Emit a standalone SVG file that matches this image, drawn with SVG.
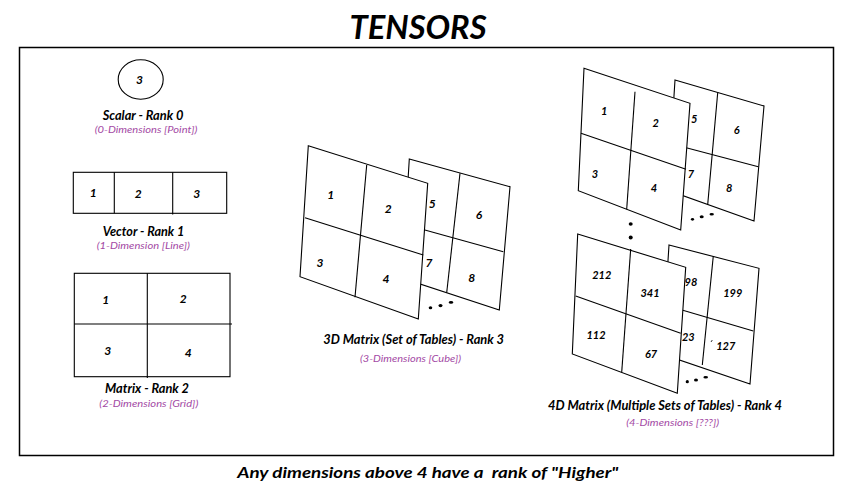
<svg xmlns="http://www.w3.org/2000/svg" width="857" height="496" viewBox="0 0 857 496">
<style>
.t{font-family:Lato,"Liberation Sans",sans-serif;font-weight:bold;font-style:italic;fill:#000}
.lbl{font-family:Lato,"Liberation Sans",sans-serif;font-weight:bold;font-style:italic;font-size:12.5px;fill:#000;text-anchor:middle}
.sub{font-family:Lato,"Liberation Sans",sans-serif;font-style:italic;font-size:10px;fill:#a349a4;text-anchor:middle}
.n{font-family:Lato,"Liberation Sans",sans-serif;font-weight:bold;font-style:italic;font-size:12px;fill:#000;text-anchor:middle}
.ns{font-family:Lato,"Liberation Sans",sans-serif;font-weight:bold;font-style:italic;font-size:11px;fill:#000;text-anchor:middle}
.ln{stroke:#000;stroke-width:1.1;fill:none}
.sh{stroke:#000;stroke-width:1.1;fill:#fff}
.dot{fill:#000}
</style>
<rect width="857" height="496" fill="#fff"/>
<rect x="19.5" y="47.5" width="814" height="408" fill="none" stroke="#000" stroke-width="1.5"/>
<text class="t" x="418" y="39" font-size="31.5" text-anchor="middle" textLength="137" lengthAdjust="spacingAndGlyphs">TENSORS</text>

<g id="scalar">
<ellipse cx="140.7" cy="79.5" rx="22.5" ry="19.7" class="ln"/>
<text class="n" x="139.5" y="84">3</text>
<text class="lbl" x="143" y="119.5" textLength="80.7" lengthAdjust="spacingAndGlyphs">Scalar - Rank 0</text>
<text class="sub" x="146" y="132.5" textLength="102.7" lengthAdjust="spacingAndGlyphs">(0-Dimensions [Point])</text>
</g>

<g id="vector">
<rect x="73.3" y="172.3" width="153.4" height="41" class="ln"/>
<line x1="114.3" y1="172.3" x2="114.3" y2="213.3" class="ln"/>
<line x1="172.7" y1="172.3" x2="172.7" y2="214.5" class="ln"/>
<text class="n" x="93.3" y="197">1</text>
<text class="n" x="138.3" y="197.5">2</text>
<text class="n" x="196.7" y="198.2">3</text>
<text class="lbl" x="143.5" y="235.5" textLength="81.6" lengthAdjust="spacingAndGlyphs">Vector - Rank 1</text>
<text class="sub" x="143.3" y="249" textLength="93.3" lengthAdjust="spacingAndGlyphs">(1-Dimension [Line])</text>
</g>

<g id="matrix">
<rect x="74.3" y="273.3" width="155.7" height="103.4" class="ln"/>
<line x1="147.3" y1="273.3" x2="147.3" y2="378" class="ln"/>
<line x1="74.3" y1="324" x2="232" y2="324" class="ln"/>
<text class="n" x="105.7" y="303.5">1</text>
<text class="n" x="183.3" y="302.5">2</text>
<text class="n" x="107.7" y="355">3</text>
<text class="n" x="188.3" y="357">4</text>
<text class="lbl" x="147" y="392.5" textLength="84" lengthAdjust="spacingAndGlyphs">Matrix - Rank 2</text>
<text class="sub" x="148.8" y="406.5" textLength="99" lengthAdjust="spacingAndGlyphs">(2-Dimensions [Grid])</text>
</g>

<g id="matrix3d">
<g id="matrix3d-back">
<polygon points="409.3,159 510,186.7 499.3,310 402,278" class="sh"/>
<line x1="460" y1="173.3" x2="446.7" y2="292.7" class="ln"/>
<line x1="405" y1="224.5" x2="503.3" y2="251.7" class="ln"/>
<text class="n" x="432.3" y="207.5">5</text>
<text class="n" x="479" y="219.2">6</text>
<text class="n" x="429" y="267">7</text>
<text class="n" x="471.7" y="281.5">8</text>
</g>
<g id="matrix3d-front">
<polygon points="308.3,145.7 427.7,183.3 418.3,319 300,276.7" class="sh"/>
<line x1="366.7" y1="165" x2="355" y2="297.3" class="ln"/>
<line x1="305" y1="217.7" x2="423.3" y2="255" class="ln"/>
<text class="n" x="330.7" y="199.2">1</text>
<text class="n" x="388.3" y="212.5">2</text>
<text class="n" x="320" y="267">3</text>
<text class="n" x="386" y="282.5">4</text>
</g>
<ellipse cx="430.5" cy="307.8" rx="1.8" ry="1.5" class="dot"/>
<ellipse cx="440.5" cy="305.6" rx="2" ry="1.6" class="dot"/>
<ellipse cx="451" cy="302.4" rx="2.2" ry="1.3" class="dot"/>
<text class="lbl" x="413.7" y="344" textLength="180.7" lengthAdjust="spacingAndGlyphs">3D Matrix (Set of Tables) - Rank 3</text>
<text class="sub" x="410.5" y="361.5" textLength="101" lengthAdjust="spacingAndGlyphs">(3-Dimensions [Cube])</text>
</g>

<g id="matrix4d">
<g id="matrix4d-set1-back">
<polygon points="675,80 764,106 754,221 668,190.3" class="sh"/>
<line x1="717.7" y1="92.7" x2="707.7" y2="204.5" class="ln"/>
<line x1="672" y1="144" x2="758.3" y2="166.7" class="ln"/>
<text class="ns" x="694.3" y="123">5</text>
<text class="ns" x="736.7" y="134">6</text>
<text class="ns" x="691" y="178.3">7</text>
<text class="ns" x="729.3" y="191.7">8</text>
</g>
<g id="matrix4d-set1-front">
<polygon points="584,68.3 690,103.3 680.7,230 578.3,190.7" class="sh"/>
<line x1="635" y1="91.7" x2="626.7" y2="209.3" class="ln"/>
<line x1="581" y1="133.3" x2="686" y2="169.3" class="ln"/>
<text class="ns" x="604.3" y="115">1</text>
<text class="ns" x="655.7" y="127.3">2</text>
<text class="ns" x="595" y="178.3">3</text>
<text class="ns" x="654" y="192.3">4</text>
</g>
<ellipse cx="692.5" cy="219.3" rx="1.6" ry="1.4" class="dot"/>
<ellipse cx="701.7" cy="216.7" rx="2" ry="1.5" class="dot"/>
<ellipse cx="711.7" cy="214.3" rx="2.2" ry="1.3" class="dot"/>
<ellipse cx="630.7" cy="224" rx="2" ry="1.8" class="dot"/>
<ellipse cx="630.7" cy="237.5" rx="2" ry="2" class="dot"/>

<g id="matrix4d-set2-back">
<polygon points="669,245 759,268.3 750,384 662,354" class="sh"/>
<line x1="713.3" y1="256" x2="702.3" y2="365" class="ln"/>
<line x1="665" y1="305" x2="753.3" y2="331" class="ln"/>
<text class="ns" x="691" y="286.3">98</text>
<text class="ns" x="732.7" y="296.7">199</text>
<text class="ns" x="688.3" y="340.7">23</text>
<text class="ns" x="725.7" y="350">127</text>
<line x1="711" y1="342" x2="712.3" y2="340" stroke="#000" stroke-width="0.8"/>
</g>
<g id="matrix4d-set2-front">
<polygon points="577.7,234 685.7,267.3 677.3,393.3 572.3,354" class="sh"/>
<line x1="630.7" y1="249" x2="621.7" y2="372.3" class="ln"/>
<line x1="575.7" y1="296" x2="680.7" y2="333.3" class="ln"/>
<text class="ns" x="601.7" y="279">212</text>
<text class="ns" x="650" y="296.7">341</text>
<text class="ns" x="596" y="339">112</text>
<text class="ns" x="651" y="358.3">67</text>
</g>
<ellipse cx="687.3" cy="381.7" rx="1.6" ry="1.6" class="dot"/>
<ellipse cx="696" cy="380" rx="2" ry="1.5" class="dot"/>
<ellipse cx="705.7" cy="377.3" rx="2.3" ry="1.3" class="dot"/>
<text class="lbl" x="665" y="410" textLength="234" lengthAdjust="spacingAndGlyphs">4D Matrix (Multiple Sets of Tables) - Rank 4</text>
<text class="sub" x="672.7" y="425.5" textLength="93" lengthAdjust="spacingAndGlyphs">(4-Dimensions [???])</text>
</g>

<g id="connectors"></g>

<text class="t" x="427.8" y="478.3" font-size="16" text-anchor="middle" textLength="381" lengthAdjust="spacingAndGlyphs" xml:space="preserve">Any dimensions above 4 have a  rank of "Higher"</text>
</svg>
